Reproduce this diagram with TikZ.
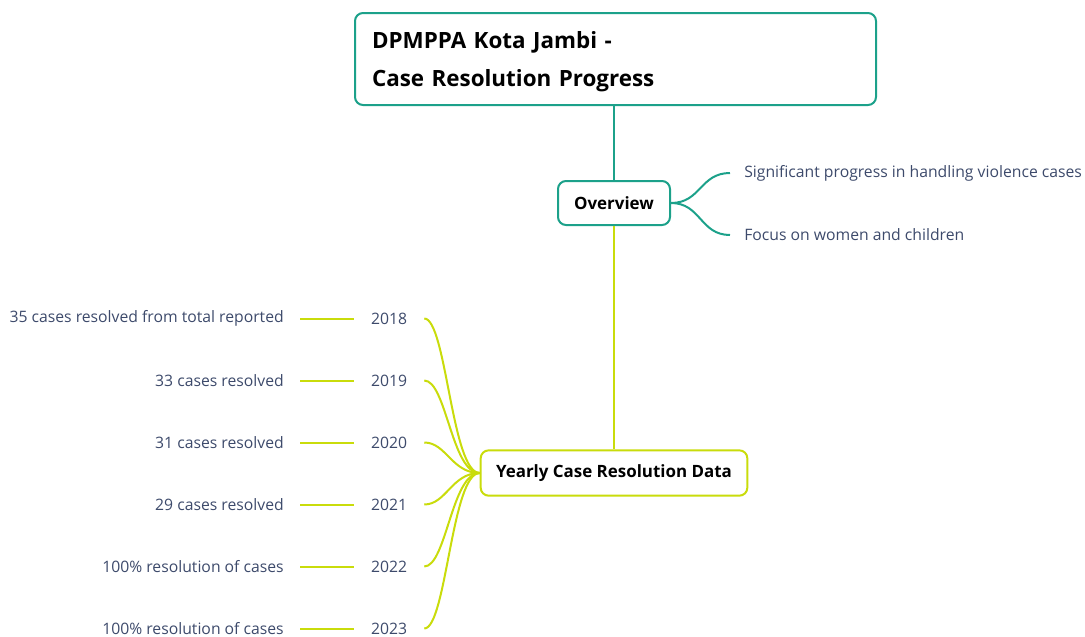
\documentclass[tikz,border=0pt]{standalone}
\usepackage{fontspec}
\setmainfont{Open Sans}
\usepackage{xcolor}
\usetikzlibrary{positioning}
\definecolor{teal}{HTML}{1CA18A}
\definecolor{lime}{HTML}{C9DC0B}
\definecolor{leaf}{HTML}{3D4A6B}
\tikzset{
	box/.style={draw, rounded corners=6pt, line width=1.5pt, fill=white, font=\bfseries\fontsize{12.7}{16}\selectfont},
	leaftext/.style={text=leaf, font=\fontsize{11.8}{14}\selectfont, inner ysep=2pt},
	link/.style={line width=1.5pt},
}
\begin{document}
\begin{tikzpicture}[x=0.75pt,y=-0.75pt]
			\useasboundingbox (0,0) rectangle (1085,636);
			% Nodes
			\node [box, draw=teal, anchor=north west, minimum width=390.75pt, minimum height=69pt,
				text width=365.25pt, align=left, inner xsep=12.75pt,
				font=\bfseries\fontsize{16.8}{28.5}\selectfont] (root) at (354,12)
				{\rule{0pt}{16.5pt}DPMPPA Kota Jambi -\\Case Resolution Progress};
			\node [box, draw=teal, minimum width=84pt, minimum height=33pt] (overview) at (614,203) {Overview};
			\node [box, draw=lime, minimum width=200pt, minimum height=34pt] (yearly) at (614,473) {Yearly Case Resolution Data};
			\node [leaftext, anchor=west, inner xsep=10.5pt] (ov1) at (730,173) {Significant progress in handling violence cases};
			\node [leaftext, anchor=west, inner xsep=10.5pt] (ov2) at (730,235) {Focus on women and children};
			% Links
			\draw [link, teal] (root.south -| overview.north) -- (overview.north);
			\draw [link, lime] (overview.south) -- (yearly.north);
			\foreach \o in {ov1,ov2}
			\draw [link, teal] (overview.east) .. controls +(30,0) and +(-30,0) .. (\o.west);
			% Yearly data
			\foreach \yr/\txt [count=\i from 0] in {2018/35 cases resolved from total reported,2019/33 cases resolved,2020/31 cases resolved,2021/29 cases resolved,2022/100\% resolution of cases,2023/100\% resolution of cases}
			{
				\node [leaftext, minimum width=52.5pt] (y\yr) at (389,318.5+62*\i) {\yr};
				\node [leaftext, anchor=east, inner xsep=12pt] (d\yr) at (300,318.5+62*\i) {\txt};
				\draw [link, lime] (d\yr.east) -- (y\yr.west);
				\draw [link, lime] (yearly.west) .. controls +(-28,0) and +(22,0) .. (y\yr.east);
			}
		\end{tikzpicture}
\end{document}
